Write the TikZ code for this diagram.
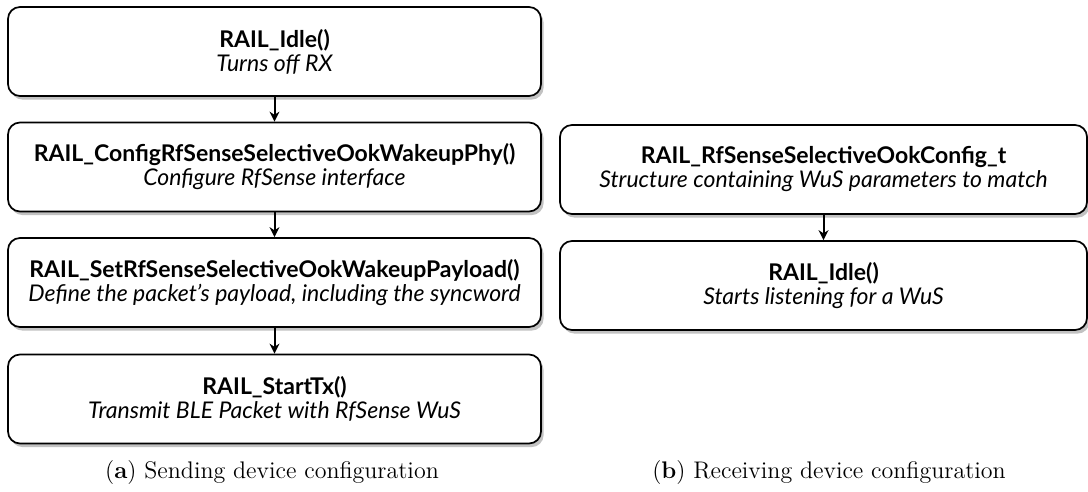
\documentclass[tikz,border=0pt]{standalone}
\usepackage{fontspec}
\usepackage{tikz}
\usetikzlibrary{arrows.meta, shadows}
\newfontfamily\boxfont{Lato}
\newcommand{\callname}[1]{{\boxfont\fontsize{11.5}{13}\selectfont\bfseries #1}}
\newcommand{\calldesc}[1]{{\boxfont\fontsize{11.5}{13}\selectfont\itshape #1}}

\begin{document}
\begin{tikzpicture}[x=0.5pt, y=-0.5pt,
        box/.style={rectangle, draw=black, fill=white, line width=0.85pt, rounded corners=6pt,
            minimum width=266.5pt, minimum height=44.5pt, align=center, inner sep=0pt,
            drop shadow={shadow xshift=1.3pt, shadow yshift=-1.8pt, fill=black!40, opacity=0.6}},
        wbox/.style={box, minimum width=263.5pt},
        arrow/.style={-{Stealth[length=5pt, width=5pt]}, line width=1pt},
        caption/.style={anchor=base, font=\fontsize{12}{14}\selectfont}]

        \useasboundingbox (0,0) rectangle (1088,492);

        % sending side
        \node (idle) [box] at (274.5, 51.5) {\callname{RAIL\_Idle()}\\ \calldesc{Turns off RX}};
        \node (phy) [box] at (274.5, 167) {\callname{RAIL\_ConfigRfSenseSelectiveOokWakeupPhy()}\\ \calldesc{Configure RfSense interface}};
        \node (payload) [box] at (274.5, 282.5) {\callname{RAIL\_SetRfSenseSelectiveOokWakeupPayload()}\\ \calldesc{Define the packet’s payload, including the syncword}};
        \node (starttx) [box] at (274.5, 399) {\callname{RAIL\_StartTx()}\\ \calldesc{Transmit BLE Packet with RfSense WuS}};

        % receiving side
        \node (config) [wbox] at (823.5, 169.5) {\callname{RAIL\_RfSenseSelectiveOokConfig\_t}\\ \calldesc{Structure containing WuS parameters to match}};
        \node (listen) [wbox] at (823.5, 285.5) {\callname{RAIL\_Idle()}\\ \calldesc{Starts listening for a WuS}};

        \draw [arrow] (idle) -- (phy);
        \draw [arrow] (phy) -- (payload);
        \draw [arrow] (payload) -- (starttx);
        \draw [arrow] (config) -- (listen);

        \node (capa) [caption] at (272, 478) {(\textbf{a}) Sending device configuration};
        \node (capb) [caption] at (829, 478) {(\textbf{b}) Receiving device configuration};
    \end{tikzpicture}
\end{document}
